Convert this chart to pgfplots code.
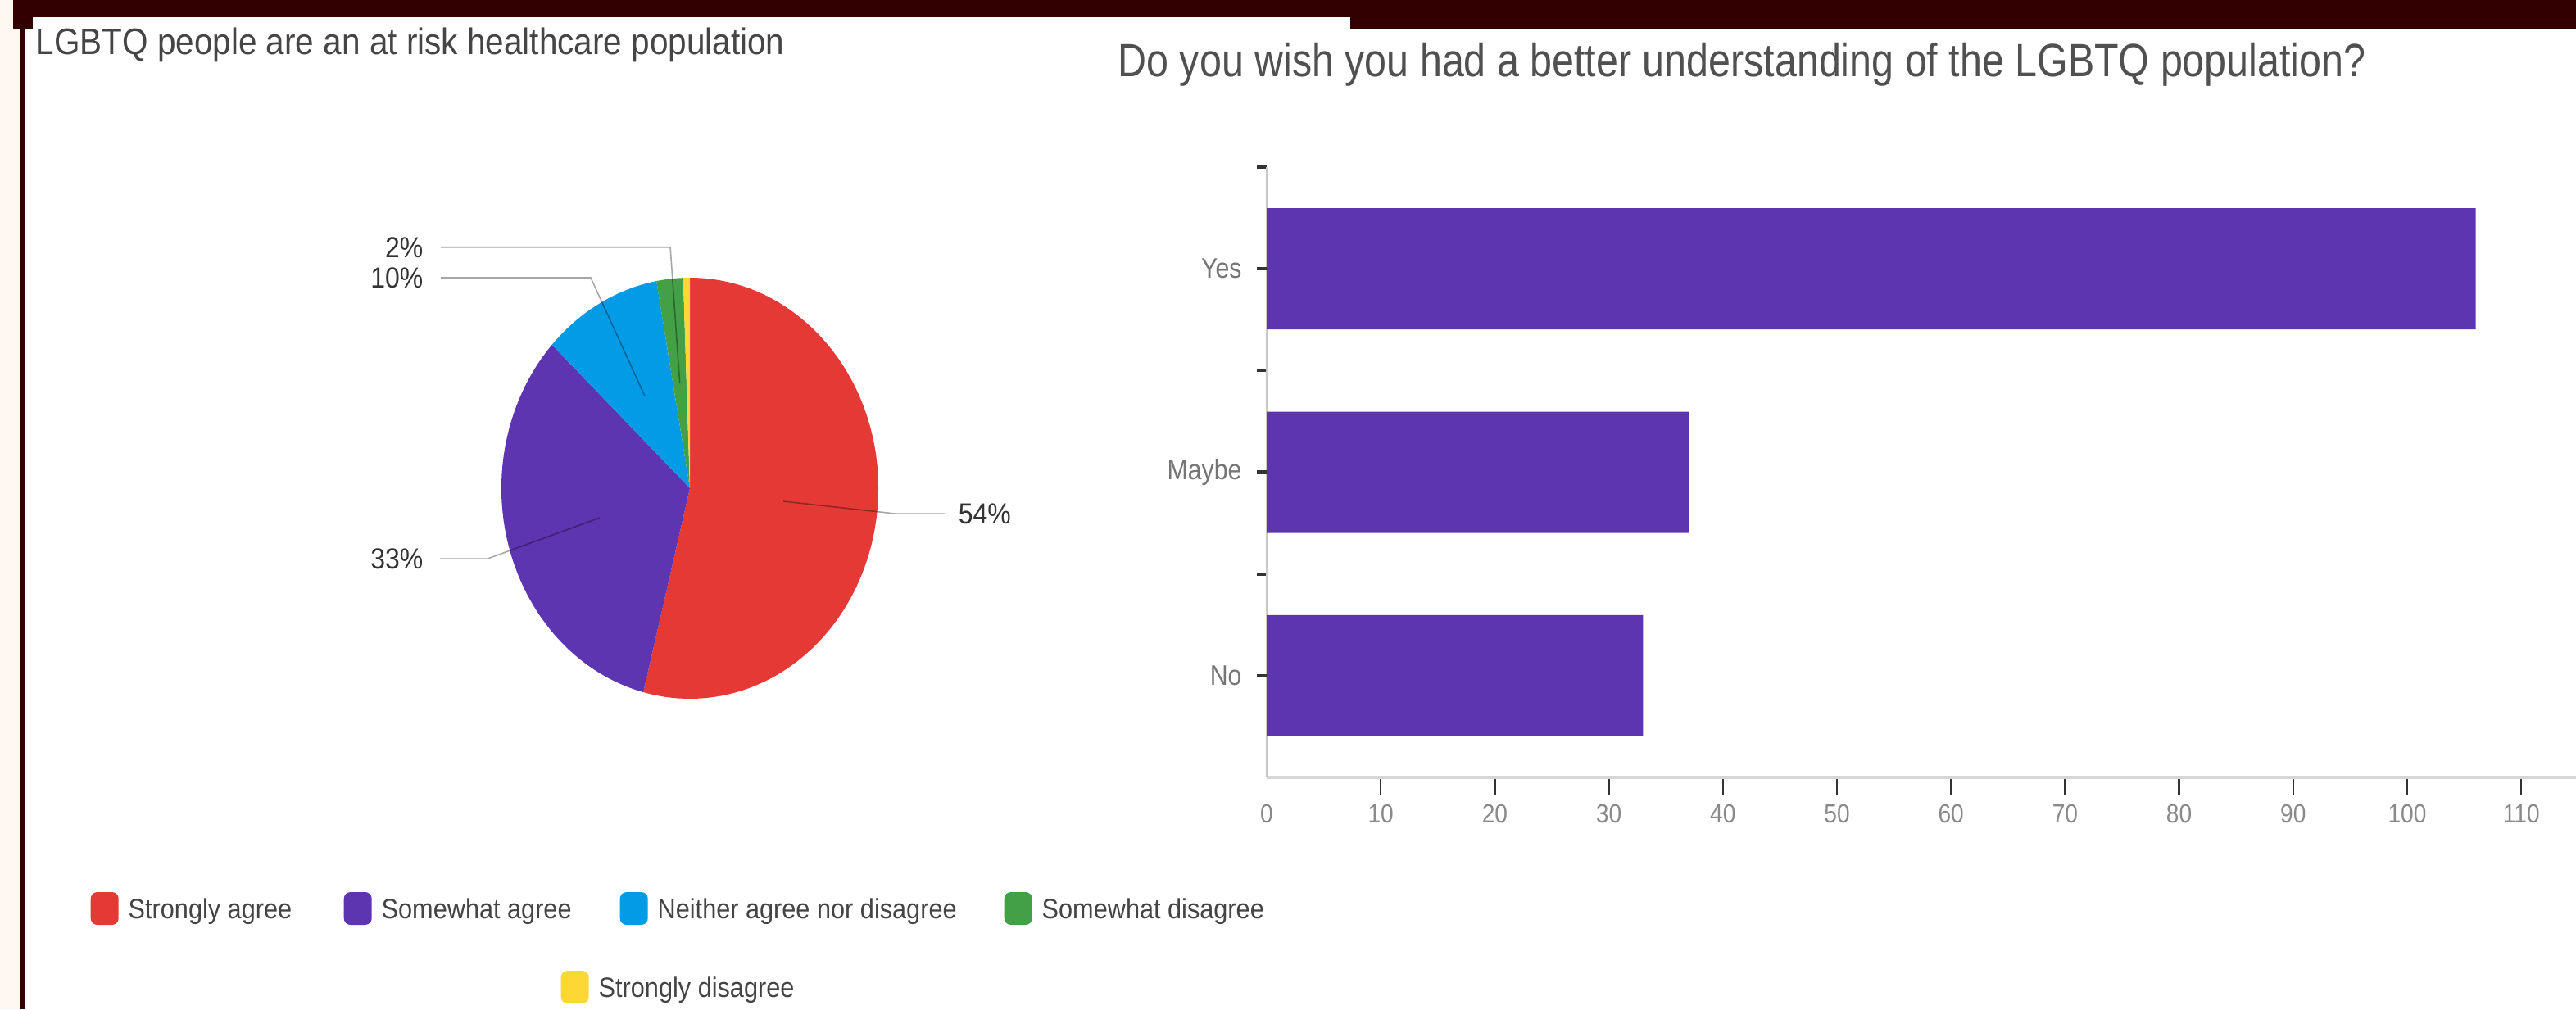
\documentclass[border=0pt]{standalone}
\usepackage{pgfplots}
\pgfplotsset{compat=1.18}
\usepackage{pgfplotstable}
\usepackage{fontspec}
\setmainfont{Liberation Sans}
\newfontfamily\lf[FakeStretch=0.9]{Liberation Sans}
\newfontfamily\rf[FakeStretch=0.88]{Liberation Sans}
\newfontfamily\tf[FakeStretch=0.85]{Liberation Sans}
\definecolor{sred}{HTML}{E53935}
\definecolor{spurple}{HTML}{5E35B1}
\definecolor{sblue}{HTML}{039BE5}
\definecolor{sgreen}{HTML}{43A047}
\definecolor{syellow}{HTML}{FDD835}
\definecolor{band}{HTML}{330000}
\definecolor{cream}{HTML}{FFF8F0}
\definecolor{lefttitle}{HTML}{454545}
\definecolor{righttitle}{HTML}{505050}
\definecolor{pielab}{HTML}{333333}
\definecolor{legtext}{HTML}{444444}
\definecolor{tickc}{HTML}{333333}
\definecolor{xlab}{HTML}{8A8A8A}
\definecolor{ylab}{HTML}{757575}
\definecolor{xaxisc}{HTML}{D6D6D6}
\definecolor{yaxisc}{HTML}{C8C8C8}

% pie: Strongly agree, Somewhat agree, Neither, Somewhat disagree, Strongly disagree
\pgfplotstableread{
value color
95 sred
58 spurple
18 sblue
4 sgreen
1 syellow
}\pietable

% bar: 0 = No, 1 = Maybe, 2 = Yes
\pgfplotstableread{
cat count
0 33
1 37
2 106
}\bartable

\newcommand\pielabel[6]{%
  \draw[black, opacity=0.35, line width=0.45pt]
    (axis cs:{0.5*cos(\csname pieMid#1\endcsname)},{0.5*sin(\csname pieMid#1\endcsname)})
    -- (axis cs:#2,#3) -- (axis cs:#4,#3);
  \node[anchor=#6, inner sep=0, text=pielab, font=\lf\fontsize{10.1}{12}\selectfont]
    at (axis cs:#5,#3) {\csname piePct#1\endcsname\%};
}
\newcommand\legitem[4]{%
  \node[fill=#3, rounded corners=0.08cm, minimum width=0.34cm, minimum height=0.40cm,
        inner sep=0, anchor=west] at (#1,#2) {};
  \node[anchor=base west, inner sep=0, text=legtext, font=\lf\fontsize{9.7}{11}\selectfont]
        at ([xshift=0.46cm,yshift=-0.12cm]#1,#2) {#4};
}

\begin{document}
\begin{tikzpicture}
\path[use as bounding box] (0,0) rectangle (31.44,12.32);
\fill[white] (0,0) rectangle (31.44,12.32);
\fill[cream] (0,0) rectangle (0.25,12.32);
\fill[band] (0.16,12.11) rectangle (31.44,12.32);
\fill[band] (16.48,11.96) rectangle (31.44,12.11);
\fill[band] (0.16,11.96) rectangle (0.40,12.11);
\fill[band] (0.25,0) rectangle (0.31,11.96);

\node[anchor=base west, inner sep=0, text=lefttitle, font=\lf\fontsize{12.8}{14}\selectfont]
  at (0.43,11.65) {LGBTQ people are an at risk healthcare population};
\node[anchor=base west, inner sep=0, text=righttitle, font=\tf\fontsize{16.2}{18}\selectfont]
  at (13.64,11.38) {Do you wish you had a better understanding of the LGBTQ population?};

% ---------------- pie ----------------
\begin{axis}[at={(8.42cm,6.36cm)}, anchor=center, scale only axis,
  width=4.6cm, height=5.14cm, xmin=-1, xmax=1, ymin=-1, ymax=1,
  hide axis, clip=false]
  \pgfmathsetmacro\pietotal{0}
  \pgfplotsforeachungrouped \i in {0,...,4}{%
    \pgfplotstablegetelem{\i}{value}\of\pietable
    \pgfmathsetmacro\pietotal{\pietotal+\pgfplotsretval}}
  \pgfmathsetmacro\piecum{0}
  \pgfplotsforeachungrouped \i in {0,...,4}{%
    \pgfplotstablegetelem{\i}{value}\of\pietable
    \let\pieval\pgfplotsretval
    \pgfplotstablegetelem{\i}{color}\of\pietable
    \let\piecol\pgfplotsretval
    \pgfmathsetmacro\piesa{90-360*(\piecum/\pietotal)}
    \pgfmathsetmacro\piecum{\piecum+\pieval}
    \pgfmathsetmacro\pieea{90-360*(\piecum/\pietotal)}
    \pgfmathsetmacro\piemid{(\piesa+\pieea)/2}
    \pgfmathtruncatemacro\piepct{round(100*(\pieval/\pietotal))}
    \expandafter\xdef\csname pieMid\i\endcsname{\piemid}
    \expandafter\xdef\csname piePct\i\endcsname{\piepct}
    \edef\tmp{\noexpand\fill[\piecol] (axis cs:0,0) -- (axis cs:{cos(\piesa)},{sin(\piesa)})
      arc[start angle=\piesa, end angle=\pieea, radius=1] -- cycle;}%
    \tmp
  }
  \pielabel{0}{1.091}{-0.121}{1.352}{1.422}{west}
  \pielabel{1}{-1.074}{-0.335}{-1.326}{-1.413}{east}
  \pielabel{2}{-0.526}{1.0}{-1.322}{-1.413}{east}
  \pielabel{3}{-0.104}{1.145}{-1.322}{-1.413}{east}
\end{axis}

% ---------------- bars ----------------
\begin{axis}[at={(15.46cm,2.83cm)}, anchor=south west, scale only axis,
  width=15.98cm, height=7.45cm,
  xbar, bar width=1.48cm,
  xmin=0, xmax=114.8, ymin=-0.5, ymax=2.5,
  axis x line*=bottom, axis y line*=left,
  x axis line style={draw=xaxisc, line width=1.1pt},
  y axis line style={draw=yaxisc, line width=0.5pt},
  tick align=outside, major tick length=0.21cm,
  xtick={10,20,...,110},
  x tick style={draw=tickc, line width=0.7pt},
  extra x ticks={0}, extra x tick labels={0},
  extra x tick style={major tick length=0pt, xticklabel style={yshift=-0.21cm}},
  ytick={0.5,1.5,2.5}, yticklabels={},
  y tick style={draw=tickc, line width=1.2pt, /pgfplots/major tick length=0.12cm},
  extra y ticks={0,1,2}, extra y tick labels={No,Maybe,Yes},
  extra y tick style={major tick length=0pt},
  /pgf/number format/assume math mode=true,
  xticklabel style={font=\rf\fontsize{9.1}{10}\selectfont, text=xlab},
  yticklabel style={font=\rf\fontsize{9.8}{11}\selectfont, text=ylab, xshift=-0.18cm},
  clip=false]
  \addplot[fill=spurple, draw=none] table[x=count, y=cat] {\bartable};
\end{axis}

% ---------------- legend ----------------
\legitem{1.10}{1.23}{sred}{Strongly agree}
\legitem{4.19}{1.23}{spurple}{Somewhat agree}
\legitem{7.56}{1.23}{sblue}{Neither agree nor disagree}
\legitem{12.25}{1.23}{sgreen}{Somewhat disagree}
\legitem{6.84}{0.27}{syellow}{Strongly disagree}
\end{tikzpicture}
\end{document}
